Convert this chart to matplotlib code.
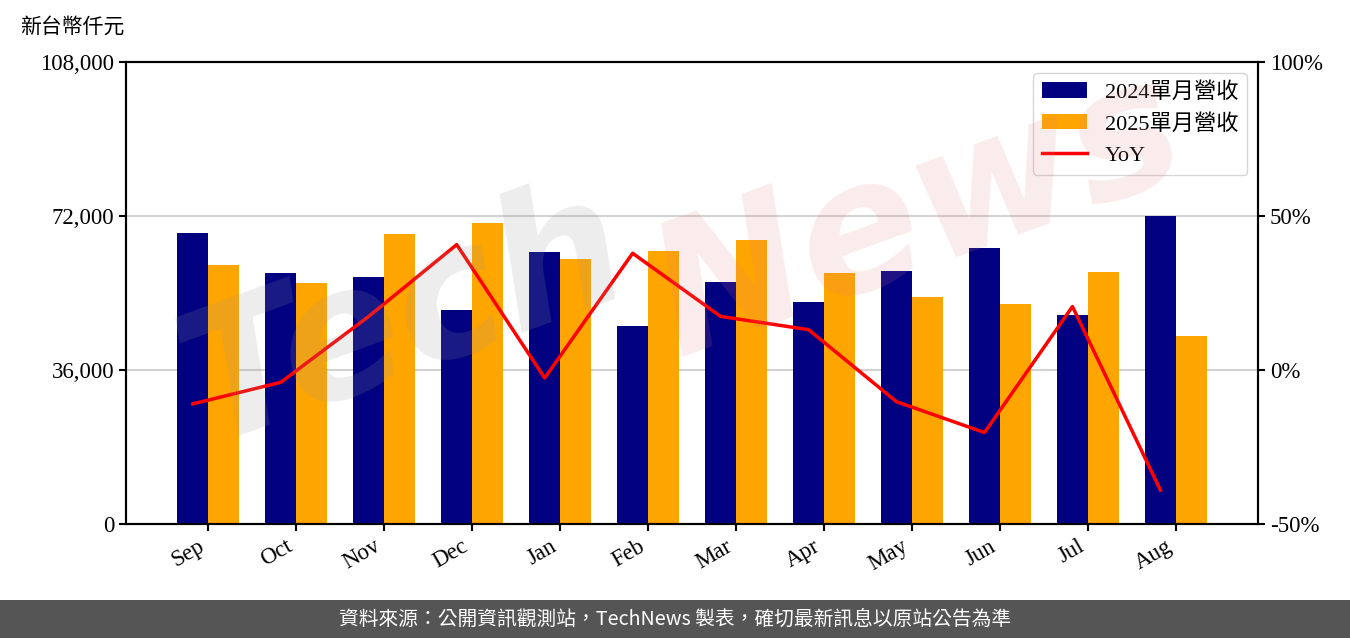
import numpy as np
import matplotlib.pyplot as plt
from matplotlib.patches import Rectangle

plt.rcParams['font.family'] = ['Liberation Serif', 'Noto Sans CJK TC']

# monthly revenue (NT$ thousand)
months = ['Sep', 'Oct', 'Nov', 'Dec', 'Jan', 'Feb', 'Mar', 'Apr', 'May', 'Jun', 'Jul', 'Aug']
rev_2024 = [67950, 58610, 57680, 49970, 63520, 46240, 56510, 51840, 59080, 64450, 48800, 72000]
rev_2025 = [60480, 56280, 67720, 70290, 61880, 63750, 66320, 58610, 53010, 51370, 58840, 43900]
yoy = [-11.0, -4.0, 17.4, 40.7, -2.6, 37.9, 17.4, 13.1, -10.3, -20.3, 20.6, -39.0]

fig = plt.figure(figsize=(13.5, 6.38), dpi=100)
ax = fig.add_axes([0.0933, 0.1787, 0.8386, 0.7241])

x = np.arange(len(months))
w = 0.35
ax.bar(x, rev_2024, width=w, color='navy', label='2024單月營收', zorder=2)
ax.bar(x + w, rev_2025, width=w, color='orange', label='2025單月營收', zorder=2)

ax.set_ylim(0, 108000)
ax.set_yticks([0, 36000, 72000, 108000])
ax.set_yticklabels(['0', '36,000', '72,000', '108,000'])
ax.set_xticks(x + w / 2)
ax.set_xticklabels(months, rotation=30, ha='right')
ax.tick_params(labelsize=16.5, width=1.5, length=5)
ax.yaxis.grid(True, color='#d3d3d3', linewidth=1.5)
ax.set_axisbelow(True)
for s in ax.spines.values():
    s.set_linewidth(1.5)

ax2 = ax.twinx()
ax2.plot(x, np.array(yoy) / 100, color='red', linewidth=2.5, label='YoY')
ax2.set_ylim(-0.5, 1.0)
ax2.set_yticks([-0.5, 0, 0.5, 1.0])
ax2.set_yticklabels(['-50%', '0%', '50%', '100%'])
ax2.tick_params(labelsize=16.5, width=1.5, length=5)
for s in ax2.spines.values():
    s.set_linewidth(1.5)

# watermark
fig.text(0.30, 0.50, 'Tech', fontsize=130, color='#999999', alpha=0.18, rotation=20,
         ha='center', va='center', family='DejaVu Sans', fontweight='bold', style='italic')
fig.text(0.68, 0.66, 'News', fontsize=130, color='#e08080', alpha=0.15, rotation=20,
         ha='center', va='center', family='DejaVu Sans', fontweight='bold', style='italic')

h1, l1 = ax.get_legend_handles_labels()
h2, l2 = ax2.get_legend_handles_labels()
ax2.legend(h1 + h2, l1 + l2, loc='upper right', fontsize=16, framealpha=0.8)

fig.text(0.015, 0.957, '新台幣仟元', fontsize=15, ha='left', va='center')

# footer
fig.patches.append(Rectangle((0, 0), 1, 0.0596, transform=fig.transFigure,
                             facecolor='#555555', edgecolor='none'))
fig.text(0.5, 0.0298, '資料來源：公開資訊觀測站，TechNews 製表，確切最新訊息以原站公告為準',
         color='white', fontsize=14.2, ha='center', va='center', family='Noto Sans CJK TC')

fig.savefig('out.png', dpi=100)
